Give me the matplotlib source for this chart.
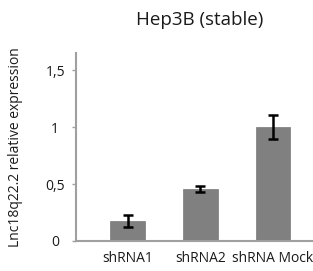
import matplotlib
matplotlib.use("Agg")
import matplotlib.pyplot as plt

categories = ["shRNA1", "shRNA2", "shRNA Mock"]
values = [0.177, 0.455, 1.0]
errors = [0.05, 0.028, 0.105]
yticks = [0, 0.5, 1, 1.5]
ytick_labels = ["0", "0,5", "1", "1,5"]

plt.rcParams['font.family'] = ['Open Sans', 'DejaVu Sans']

fig = plt.figure(figsize=(3.13, 2.71), dpi=100)
ax = fig.add_axes([76/313, 1 - 241/271, 1 - 76/313, (241 - 53)/271])

x = list(range(len(categories)))
ax.bar(x, values, width=0.48, color="#808080", edgecolor="#7a7a7a", linewidth=0.5, zorder=2)
ax.errorbar(x, values, yerr=errors, fmt="none", ecolor="black", elinewidth=1.8,
            capsize=3.5, capthick=1.8, zorder=3)

ax.set_xlim(-0.71, 2.55)
ax.set_ylim(0, 1.65)
ax.set_xticks(x)
ax.set_xticklabels(categories, fontsize=10, color="#1a1a1a")
ax.set_yticks(yticks)
ax.set_yticklabels(ytick_labels, fontsize=10, color="#1a1a1a", ha="center")
ax.tick_params(axis="x", length=0, pad=7)
ax.tick_params(axis="y", length=3, width=1, color="#a0a0a0", pad=12, direction="out")

for s in ["top", "right"]:
    ax.spines[s].set_visible(False)
for s in ["left", "bottom"]:
    ax.spines[s].set_color("#a0a0a0")
    ax.spines[s].set_linewidth(1.5)

fig.text(16/313, 1 - 147/271, "Lnc18q22.2 relative expression", rotation=90,
         fontsize=10, color="#1a1a1a", ha="center", va="center")

fig.text(200/313, 1 - 20/271, "Hep3B (stable)", fontsize=13.5, color="#1a1a1a",
         ha="center", va="center")

fig.savefig("out.png", dpi=100)
